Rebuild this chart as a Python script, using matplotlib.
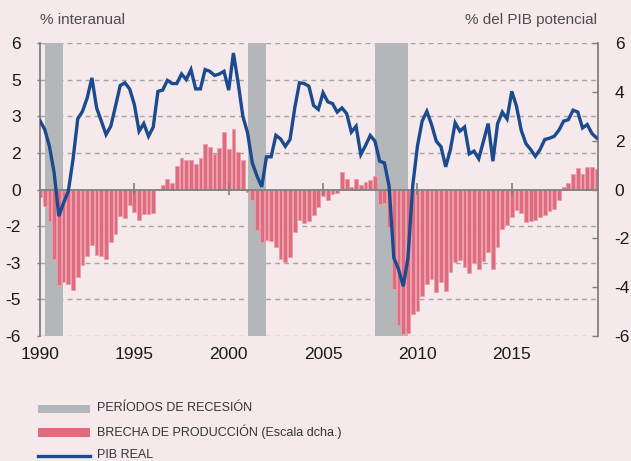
import matplotlib
matplotlib.use("Agg")
import matplotlib.pyplot as plt
from matplotlib.patches import Rectangle
from matplotlib.lines import Line2D
import numpy as np

# quarterly series, 1990Q1 .. 2019Q3
first_year = 1990
gdp_growth = [
    2.82, 2.46, 1.77, 0.68, -1.09, -0.55, -0.07, 1.23, 2.89, 3.20,
    3.75, 4.57, 3.34, 2.80, 2.25, 2.59, 3.41, 4.26, 4.37, 4.12,
    3.48, 2.39, 2.70, 2.18, 2.56, 4.02, 4.07, 4.47, 4.34, 4.34,
    4.73, 4.50, 4.91, 4.12, 4.12, 4.91, 4.84, 4.67, 4.73, 4.84,
    4.07, 5.59, 4.37, 3.00, 2.32, 1.09, 0.55, 0.11, 1.34, 1.34,
    2.22, 2.07, 1.77, 2.05, 3.34, 4.37, 4.34, 4.23, 3.44, 3.28,
    3.96, 3.59, 3.52, 3.17, 3.34, 3.11, 2.35, 2.59, 1.43, 1.80,
    2.21, 1.98, 1.16, 1.09, 0.14, -2.80, -3.27, -3.96, -2.80, 0.14,
    1.77, 2.80, 3.20, 2.66, 1.98, 1.75, 0.93, 1.64, 2.73, 2.39,
    2.56, 1.46, 1.57, 1.26, 1.98, 2.70, 1.16, 2.70, 3.17, 2.89,
    4.02, 3.41, 2.43, 1.88, 1.64, 1.36, 1.64, 2.05, 2.10, 2.18,
    2.43, 2.80, 2.86, 3.25, 3.17, 2.52, 2.66, 2.29, 2.11,
]
output_gap = [
    -0.30, -0.68, -1.30, -2.86, -3.93, -3.79, -3.89, -4.12, -3.57, -3.10,
    -2.73, -2.29, -2.70, -2.73, -2.86, -2.16, -1.81, -1.09, -1.16, -0.64,
    -0.93, -1.23, -1.02, -1.00, -0.95, 0.04, 0.20, 0.44, 0.25, 0.98,
    1.30, 1.19, 1.19, 1.06, 1.30, 1.87, 1.75, 1.46, 1.71, 2.35,
    1.66, 2.46, 1.54, 1.19, -0.11, -0.41, -1.64, -2.14, -2.05, -2.11,
    -2.35, -2.86, -2.96, -2.76, -1.75, -1.26, -1.36, -1.30, -1.05, -0.71,
    -0.27, -0.45, -0.18, -0.14, 0.72, 0.44, 0.10, 0.45, 0.20, 0.30,
    0.38, 0.55, -0.61, -0.55, -1.53, -4.07, -5.53, -5.93, -5.87, -5.08,
    -4.98, -4.37, -3.89, -3.66, -4.19, -3.79, -4.16, -3.37, -2.97, -2.89,
    -3.17, -3.44, -3.00, -3.27, -2.93, -2.56, -3.25, -2.35, -1.61, -1.46,
    -1.12, -0.85, -0.95, -1.34, -1.30, -1.26, -1.12, -1.05, -0.90, -0.79,
    -0.44, 0.10, 0.27, 0.65, 0.89, 0.65, 0.91, 0.91, 0.85,
]
recession_start = [1990.27, 2001.02, 2007.77]
recession_end = [1991.23, 2001.98, 2009.49]

year_ticks = [1990, 1995, 2000, 2005, 2010, 2015]
left_ticks = [6, 4.5, 3, 1.5, 0, -1.5, -3, -4.5, -6]
left_labels = ["6", "5", "3", "2", "0", "-2", "-3", "-5", "-6"]
right_ticks = [6, 4, 2, 0, -2, -4, -6]

legend_labels = [
    "PERÍODOS DE RECESIÓN",
    "BRECHA DE PRODUCCIÓN (Escala dcha.)",
    "PIB REAL",
]

bg = "#F5E9EB"
grey_axis = "#808080"
bar_color = "#DE6C7E"
line_color = "#1B4A8E"
shade_color = "#B4B7BA"

plt.rcParams["font.family"] = ["Liberation Sans", "DejaVu Sans"]

quarters = first_year + np.arange(len(gdp_growth)) / 4

fig = plt.figure(figsize=(6.31, 4.61), dpi=100, facecolor=bg)
ax_gap = fig.add_axes([40 / 631, 1 - 336 / 461, 558 / 631, 293 / 461])
ax_gap.set_facecolor(bg)
# GDP line goes on a twin axis drawn above the bars
ax_gdp = ax_gap.twinx()
ax_gdp.patch.set_visible(False)

# grid, recessions, bars, zero line on the gap axis
for v in left_ticks:
    if v != 0:
        ax_gap.axhline(v, color="#A3A3A3", lw=1, dashes=(3.5, 3), zorder=0)

for s, e in zip(recession_start, recession_end):
    ax_gap.axvspan(s, e, color=shade_color, lw=0, zorder=1)

ax_gap.bar(
    quarters,
    output_gap,
    width=0.2,
    color=bar_color,
    edgecolor="#EC9EAA",
    linewidth=0.6,
    zorder=2
)

ax_gap.axhline(0, color=grey_axis, lw=1.3, zorder=3)
ax_gap.vlines(year_ticks[1:], -0.22, 0.25, color=grey_axis, lw=1.2, zorder=3)

ax_gap.set_xlim(first_year, 2019.57)
ax_gap.set_ylim(-6, 6)
ax_gap.yaxis.tick_right()
ax_gap.set_yticks(right_ticks)
ax_gap.set_yticklabels([str(v) for v in right_ticks])
ax_gap.tick_params(
    axis="y",
    which="both",
    left=False,
    labelleft=False,
    right=True,
    labelright=True,
    direction="in",
    length=4,
    width=1,
    color=grey_axis,
    pad=12,
    labelsize=12.5,
    labelcolor="#1a1a1a"
)
ax_gap.set_xticks(year_ticks)
ax_gap.set_xticklabels([str(y) for y in year_ticks])
ax_gap.tick_params(axis="x", length=0, pad=8, labelsize=12.5, labelcolor="#1a1a1a")

for side in ["top", "bottom", "left"]:
    ax_gap.spines[side].set_visible(False)
ax_gap.spines["right"].set_color(grey_axis)
ax_gap.spines["right"].set_linewidth(1.3)

ax_gdp.plot(quarters, gdp_growth, color=line_color, lw=2.4, zorder=5,
            solid_joinstyle="miter")
ax_gdp.set_ylim(-6, 6)
ax_gdp.set_yticks(left_ticks)
ax_gdp.set_yticklabels(left_labels)
ax_gdp.tick_params(
    axis="y",
    left=True,
    labelleft=True,
    right=False,
    labelright=False,
    direction="out",
    length=2,
    width=1,
    color=grey_axis,
    pad=12,
    labelsize=12.5,
    labelcolor="#1a1a1a"
)
for side in ["top", "bottom", "right"]:
    ax_gdp.spines[side].set_visible(False)
ax_gdp.spines["left"].set_visible(True)
ax_gdp.spines["left"].set_color(grey_axis)
ax_gdp.spines["left"].set_linewidth(1.3)

fig.text(40 / 631, 1 - 20 / 461, "% interanual", ha="left", va="center",
         fontsize=11, color="#4d4d4d")
fig.text(597 / 631, 1 - 20 / 461, "% del PIB potencial", ha="right",
         va="center", fontsize=11, color="#4d4d4d")

# legend drawn by hand at the bottom
fig.add_artist(Rectangle((38 / 631, 1 - 413 / 461), 52 / 631, 8 / 461,
                         transform=fig.transFigure, color=shade_color, lw=0))
fig.add_artist(Rectangle((38 / 631, 1 - 437 / 461), 52 / 631, 9 / 461,
                         transform=fig.transFigure, color=bar_color, lw=0))
fig.add_artist(Line2D([38 / 631, 90 / 631], [1 - 456 / 461, 1 - 456 / 461],
                      transform=fig.transFigure, color=line_color, lw=2.4))

for label, y in zip(legend_labels, [408, 432, 455]):
    fig.text(97 / 631, 1 - y / 461, label, ha="left", va="center",
             fontsize=9, color="#333333")

fig.savefig("out.png", dpi=100, facecolor=bg)
